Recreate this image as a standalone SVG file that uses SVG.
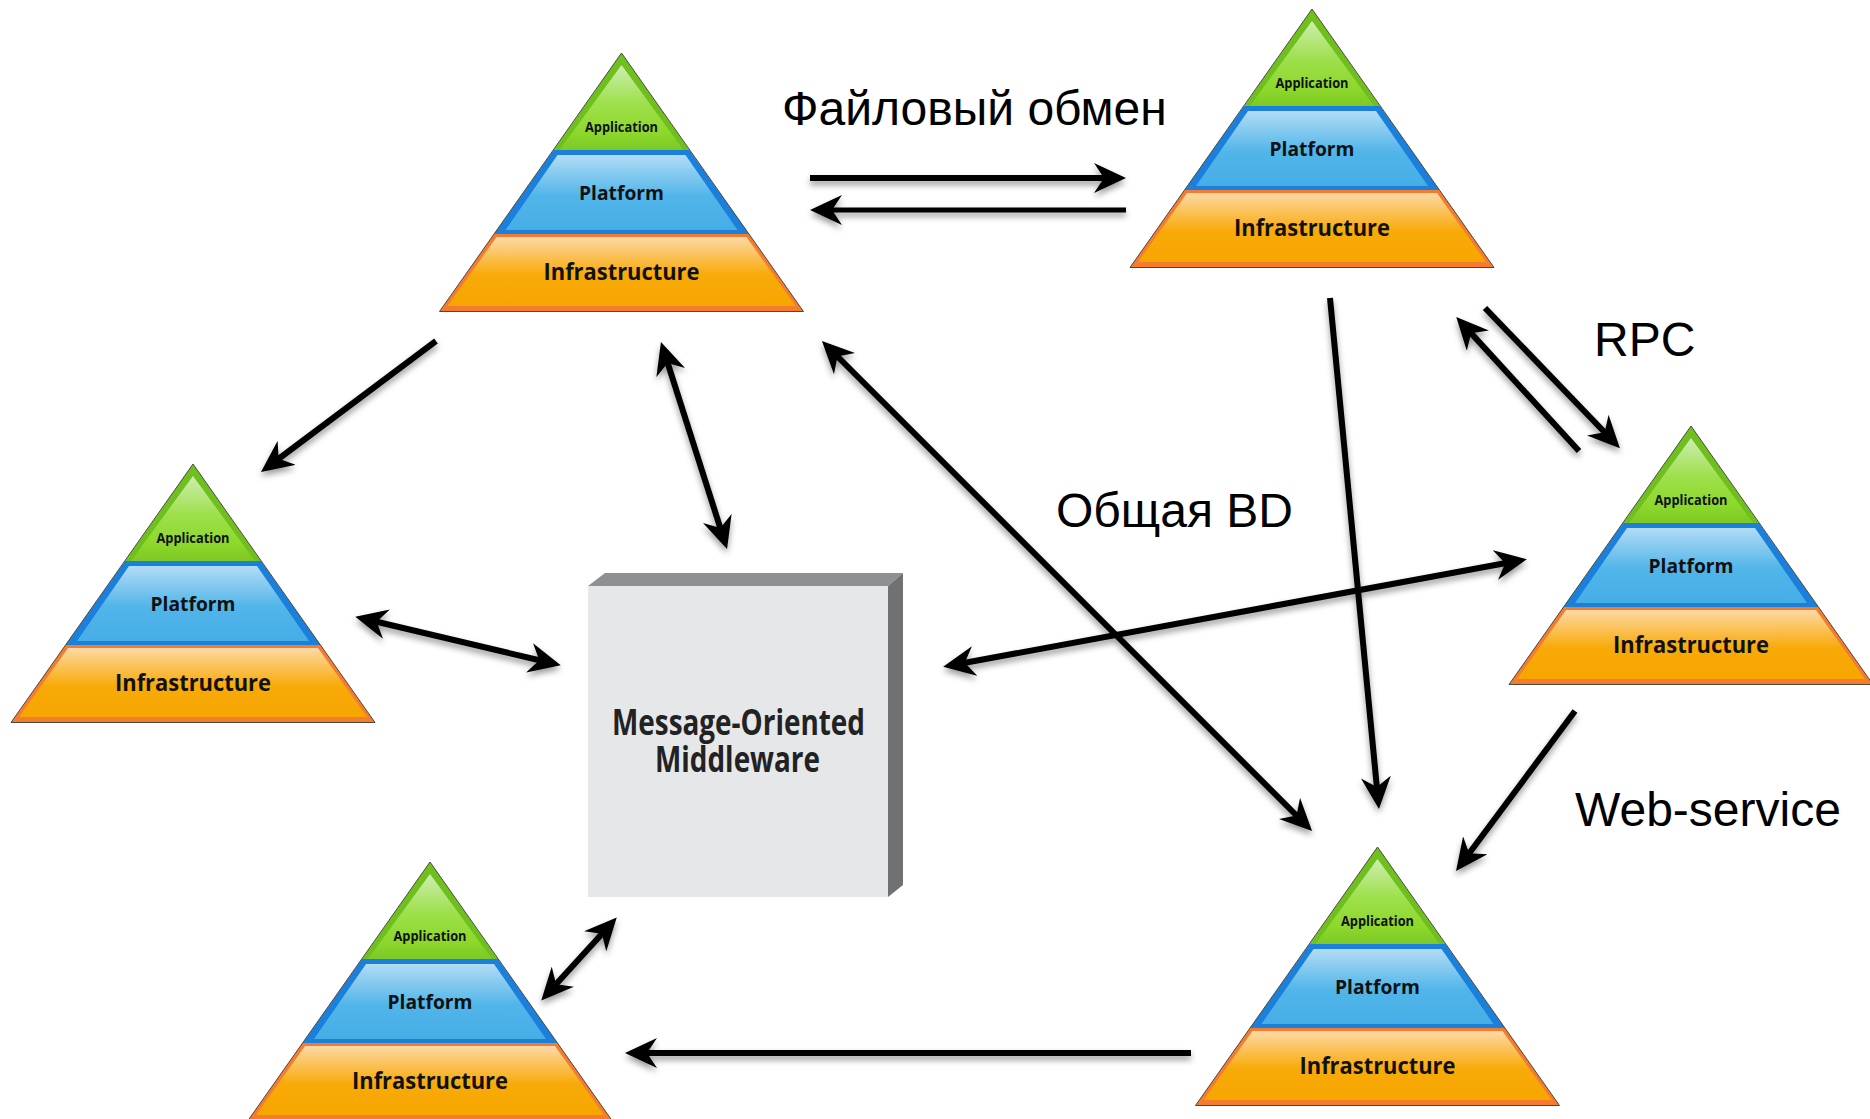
<svg xmlns="http://www.w3.org/2000/svg" xmlns:xlink="http://www.w3.org/1999/xlink" width="1870" height="1119" viewBox="0 0 1870 1119">
<style>
.cap{font-family:"Liberation Sans",Arial,sans-serif;font-size:48px;fill:#000}
.py{font-family:"Open Sans","Noto Sans",sans-serif;font-weight:700;fill:#111;text-anchor:middle}
.mom{font-family:"Open Sans","Noto Sans",sans-serif;font-weight:700;font-size:36px;fill:#222;text-anchor:middle}
.c{fill:none;stroke:#000;stroke-width:6;marker-end:url(#ah)}
.t{stroke-width:5}
.d{marker-start:url(#ah)}
</style>
<defs>
<marker id="ah" viewBox="0 0 32 30" refX="22" refY="15" markerUnits="userSpaceOnUse" markerWidth="32" markerHeight="30" orient="auto-start-reverse"><path d="M0,0L32,15L0,30L10,15Z" fill="#000"/></marker>
<filter id="sh" x="-10%" y="-10%" width="120%" height="130%"><feDropShadow dx="0" dy="4" stdDeviation="3" flood-color="#000" flood-opacity=".4"/></filter>
<linearGradient id="g1" x1="0" y1="0" x2="0" y2="1"><stop offset="0" stop-color="#cdeeb0"/><stop offset=".45" stop-color="#9ee04c"/><stop offset=".8" stop-color="#8dd82b"/><stop offset="1" stop-color="#7dc824"/></linearGradient>
<linearGradient id="g2" x1="0" y1="0" x2="0" y2="1"><stop offset="0" stop-color="#b2dcf5"/><stop offset=".55" stop-color="#50b5e9"/><stop offset="1" stop-color="#46ade6"/></linearGradient>
<linearGradient id="g3" x1="0" y1="0" x2="0" y2="1"><stop offset="0" stop-color="#fdd9a6"/><stop offset=".55" stop-color="#f8aa08"/><stop offset="1" stop-color="#f7a600"/></linearGradient>
<g id="pyr">
<path d="M0,0L-68,97H68Z" fill="#6fc01f"/>
<path d="M0,12L-62,97H62Z" fill="url(#g1)"/>
<path d="M-68,97H68L127.500,181H-127.500Z" fill="#1b7fdc"/>
<path d="M-64,102H64L116,177H-116Z" fill="url(#g2)"/>
<path d="M-127.500,181H127.500L182,258.500H-182Z" fill="#f47b30"/>
<path d="M-125,184H125L174,253H-174Z" fill="url(#g3)"/>
<path d="M0,0L182,258.500H-182Z" fill="none" stroke="#4a4a3a" stroke-width="1"/>
<text class="py" y="79" font-size="14.500" textLength="73" lengthAdjust="spacingAndGlyphs">Application</text>
<text class="py" y="147" font-size="20" textLength="85" lengthAdjust="spacingAndGlyphs">Platform</text>
<text class="py" y="226.500" font-size="24" textLength="156" lengthAdjust="spacingAndGlyphs">Infrastructure</text>
</g>
</defs>
<rect width="1870" height="1119" fill="#fff"/>
<g id="n1"><use href="#pyr" x="621.500" y="53"/></g>
<g id="n2"><use href="#pyr" x="1312" y="9"/></g>
<g id="n3"><use href="#pyr" x="1691" y="426"/></g>
<g id="n4"><use href="#pyr" x="1377.500" y="847"/></g>
<g id="n5"><use href="#pyr" x="193" y="464"/></g>
<g id="n6"><use href="#pyr" x="430" y="862"/></g>
<g id="mom">
<path d="M588,586L605,573H903L888,586Z" fill="#8e9092"/>
<path d="M888,586L903,573V885L888,897Z" fill="#6f7173"/>
<rect x="588" y="586" width="300" height="311" fill="#e6e7e9"/>
<text class="mom" x="738.500" y="735" textLength="253" lengthAdjust="spacingAndGlyphs">Message-Oriented</text>
<text class="mom" x="737.500" y="772" textLength="165" lengthAdjust="spacingAndGlyphs">Middleware</text>
</g>
<g id="connectors" filter="url(#sh)">
<path class="c" d="M810,178H1116"/>
<path class="c t" d="M1126,210H820"/>
<path class="c" d="M436,341L269,466"/>
<path class="c d" d="M664,351.500L724,539.500"/>
<path class="c d" d="M829,348L1305,824"/>
<path class="c" d="M1330,298L1378,799"/>
<path class="c" d="M1485,308L1613,441"/>
<path class="c" d="M1579,451L1463,324.400"/>
<path class="c d" d="M953,665L1517,561"/>
<path class="c d" d="M365,619L551,663"/>
<path class="c" d="M1575,711L1462,863"/>
<path class="c" d="M1191,1053H635"/>
<path class="c d" d="M610,925L548,993"/>
</g>
<g id="labels">
<text class="cap" x="782" y="125">Файловый обмен</text>
<text class="cap" x="1594" y="356">RPC</text>
<text class="cap" x="1056" y="527">Общая BD</text>
<text class="cap" x="1575" y="826">Web-service</text>
</g>
</svg>
